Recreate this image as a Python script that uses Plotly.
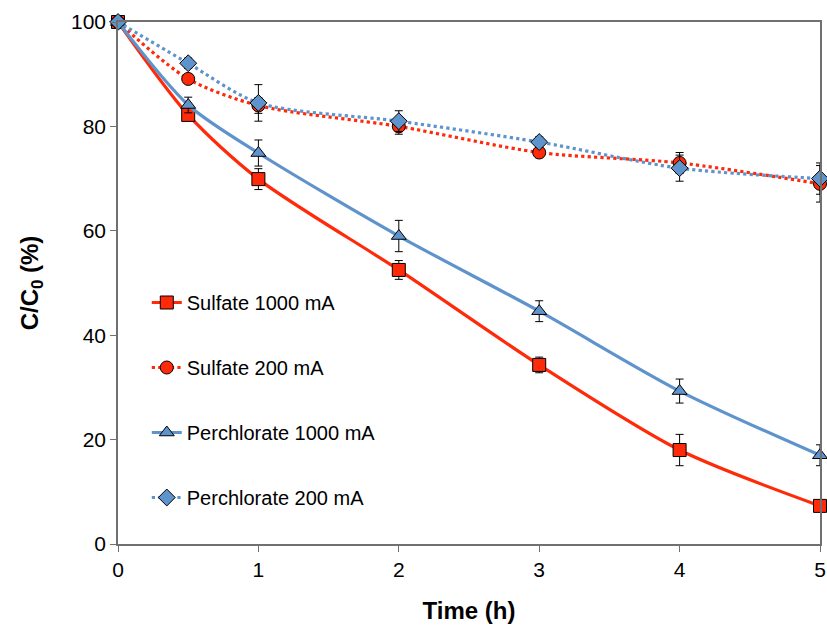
import plotly.graph_objs as go

time_h = [0, 0.5, 1, 2, 3, 4, 5]

sulfate_1000 = [100, 82.2, 69.9, 52.5, 34.3, 18.0, 7.3]
sulfate_1000_err = [0.5, 1.0, 2.0, 1.8, 1.5, 3.0, 0.5]

sulfate_200 = [100, 89.1, 84.0, 80.0, 75.0, 73.0, 69.0]
sulfate_200_err = [0.5, 0.8, 1.5, 1.5, 1.0, 2.0, 3.5]

perchlorate_1000 = [100, 84.1, 74.9, 59.0, 44.6, 29.3, 17.0]
perchlorate_1000_err = [0.5, 1.5, 2.5, 3.0, 2.0, 2.3, 2.0]

perchlorate_200 = [100, 92.1, 84.5, 81.0, 77.0, 72.0, 70.0]
perchlorate_200_err = [0.5, 1.0, 3.5, 2.0, 1.0, 2.5, 3.0]

red = '#FF2A0A'
blue = '#5F93CC'

series = [
    ('Sulfate 1000 mA', sulfate_1000, sulfate_1000_err, red, 'solid', 'square'),
    ('Sulfate 200 mA', sulfate_200, sulfate_200_err, red, 'dot', 'circle'),
    ('Perchlorate 1000 mA', perchlorate_1000, perchlorate_1000_err, blue, 'solid', 'triangle-up'),
    ('Perchlorate 200 mA', perchlorate_200, perchlorate_200_err, blue, 'dot', 'diamond'),
]

traces = []
for i, (name, vals, err, color, dash, symbol) in enumerate(series):
    traces.append(go.Scatter(
        x = time_h,
        y = vals,
        error_y = dict(type='data', array=err, color='black', thickness=1, width=4),
        mode = 'lines+markers',
        name = name,
        legendgroup = str(i),
        cliponaxis = False,
        line = dict(color=color, width=3.2, dash=dash, shape='spline', smoothing=0.8),
        marker = dict(symbol=symbol, size=13, color=color, line=dict(color='black', width=1)),
    ))

axis_font = dict(family='Liberation Sans, Arial', size=21, color='black')
title_font = dict(family='Liberation Sans, Arial', size=24, color='black')

layout = go.Layout(
    width = 827,
    height = 628,
    paper_bgcolor = 'white',
    plot_bgcolor = 'white',
    margin = dict(l=118, r=7, t=22, b=84, autoexpand=False),
    xaxis = dict(
        range=[0, 5], tickvals=[0, 1, 2, 3, 4, 5], showgrid=False, zeroline=False,
        showline=True, linecolor='#707070', linewidth=1.5, mirror=True, automargin=False,
        ticks='outside', ticklen=6, tickcolor='#707070', tickfont=axis_font,
        title=dict(text='<b>Time (h)</b>', font=title_font, standoff=22),
    ),
    yaxis = dict(
        range=[0, 100], tickvals=[0, 20, 40, 60, 80, 100], showgrid=False, zeroline=False,
        showline=True, linecolor='#707070', linewidth=1.5, mirror=True, automargin=False,
        ticks='outside', ticklen=6, tickcolor='#707070', tickfont=axis_font,
        title=dict(text='<b>C/C<sub>0</sub> (%)</b>', font=title_font, standoff=26),
    ),
    legend = dict(
        x=0.041, y=0.50, xanchor='left', yanchor='top',
        bgcolor='rgba(0,0,0,0)', tracegroupgap=36,
        font=dict(family='Liberation Sans, Arial', size=20, color='black'),
    ),
    showlegend = True,
)

fig = go.Figure(data=traces, layout=layout)
fig.write_html("out.html", config={'displayModeBar': False},
               post_script="document.body.style.margin='0';")
